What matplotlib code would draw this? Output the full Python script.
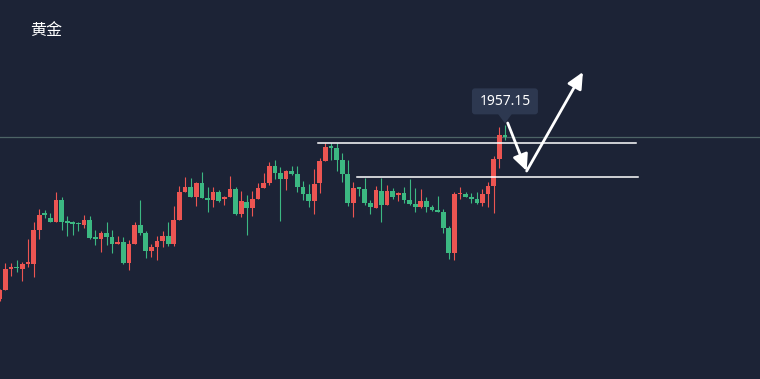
import matplotlib
matplotlib.use('Agg')
import matplotlib.pyplot as plt
from matplotlib.patches import FancyBboxPatch, Polygon
from matplotlib.transforms import IdentityTransform
import numpy as np

title = "黄金"
last_label = "1957.15"

opens = [1783, 1792, 1813.5, 1815, 1813, 1818.5, 1818, 1852, 1868, 1864,
         1860, 1882, 1860, 1859, 1858.5, 1857, 1862, 1844, 1843, 1849,
         1845, 1838, 1840, 1819, 1838, 1857, 1849, 1831, 1835, 1841,
         1846, 1838, 1862, 1890, 1895, 1885, 1899, 1884, 1882, 1890,
         1883.5, 1885, 1893, 1868, 1880, 1874, 1883, 1894, 1899, 1916,
         1909, 1903, 1911, 1908, 1895, 1888, 1881, 1899, 1921, 1935,
         1934, 1922, 1908, 1879, 1894, 1893, 1879, 1874, 1891, 1877,
         1891, 1887, 1889, 1882, 1878, 1875, 1881, 1875, 1872, 1870,
         1854, 1829, 1888, 1888, 1885, 1883, 1879, 1888, 1896, 1923,
         1947]
highs = [1793, 1819, 1819, 1822, 1820, 1843, 1860, 1873, 1872, 1869,
         1890, 1885, 1866, 1861, 1860, 1867, 1866, 1852, 1851, 1860,
         1852, 1846, 1845, 1842, 1860, 1882, 1851, 1838, 1846, 1851,
         1860, 1876, 1896, 1905, 1904, 1900, 1910, 1895, 1895, 1892,
         1886, 1906, 1895, 1891, 1887, 1891, 1899, 1909, 1920, 1922,
         1915, 1912, 1916, 1916, 1901, 1898, 1913, 1924, 1939, 1939,
         1939, 1929, 1922, 1900, 1895, 1904, 1882, 1896, 1904, 1897,
         1894, 1890, 1895, 1903, 1894, 1893, 1885, 1877, 1886, 1873,
         1856, 1890, 1895, 1890, 1889, 1890, 1893, 1900, 1926, 1955,
         1957.15]
lows = [1781, 1792, 1806, 1810, 1801, 1815, 1805, 1843, 1864, 1860,
        1860, 1852, 1846, 1847, 1851, 1854, 1843, 1837, 1830, 1837,
        1829, 1838, 1818, 1812, 1838, 1847, 1824, 1825, 1822, 1835,
        1836, 1836, 1862, 1890, 1885, 1876, 1884, 1870, 1875, 1880,
        1877, 1885, 1867, 1865, 1847, 1866, 1883, 1894, 1897, 1903,
        1861, 1892, 1907, 1890, 1882, 1875, 1868, 1889, 1921, 1922,
        1911, 1900, 1876, 1865, 1886, 1877, 1868, 1874, 1860, 1877,
        1883, 1881, 1879, 1877, 1870, 1874, 1870, 1871, 1870, 1849,
        1823, 1822, 1883, 1885, 1879, 1878, 1876, 1875, 1869, 1914,
        1942]
closes = [1792, 1813, 1814, 1814, 1818, 1819, 1852, 1867, 1867.5, 1860,
          1882, 1860, 1859.5, 1858.5, 1858, 1862, 1844, 1843.5, 1849, 1845,
          1838, 1840, 1819, 1838, 1857, 1849, 1831, 1835, 1841, 1846,
          1838, 1862, 1890, 1895, 1885, 1899, 1884, 1882, 1890, 1881,
          1884, 1893, 1868, 1881, 1874, 1883, 1894, 1899, 1916, 1909,
          1903, 1911, 1908, 1895, 1888, 1881, 1898, 1921, 1935, 1934.5,
          1922, 1908, 1879, 1894, 1893.5, 1879, 1875, 1892, 1877, 1891,
          1885, 1889, 1882, 1878, 1875, 1881, 1875, 1872, 1870, 1854,
          1829, 1888, 1889, 1885, 1883, 1879, 1888, 1896, 1923, 1947,
          1945]

# drawn level lines (start index, end index, price)
level_lines = [(56.7, 113.35, 1939), (63.6, 113.7, 1905)]
# drawn arrows (x0, y0, x1, y1) in candle index / price
arrows = [(90.49, 1959, 93.87, 1911), (93.87, 1911, 103.9, 2010)]

bg = '#1c2336'
up_c = '#ec5552'
dn_c = '#3cb882'

o = np.array(opens); h = np.array(highs); l = np.array(lows); c = np.array(closes)
n = len(o)
x = np.arange(n)
cols = [up_c if cc > oo else dn_c for oo, cc in zip(o, c)]

fig = plt.figure(figsize=(7.6, 3.79), dpi=100)
fig.patch.set_facecolor(bg)
ax = fig.add_axes([0, 0, 1, 1])
ax.set_facecolor(bg)
ax.set_xlim(0.02, 135.45)
ax.set_ylim(1703, 2082)
ax.axis('off')

ax.vlines(x, l, h, colors=cols, linewidth=0.8, zorder=2)
bottom = np.minimum(o, c)
height = np.maximum(np.abs(c - o), 1.1)
ax.bar(x, height, width=0.84, bottom=bottom, color=cols, linewidth=0, zorder=3)

# last price line
ax.axhline(c[-1], color='#4d6466', linewidth=0.9, zorder=1)

for x0, x1, yv in level_lines:
    ax.plot([x0, x1], [yv, yv], color='white', linewidth=1.1, zorder=4)

for x0, y0, x1, y1 in arrows:
    ax.annotate('', xy=(x1, y1), xytext=(x0, y0),
                arrowprops=dict(arrowstyle='-|>,head_length=0.7,head_width=0.33',
                                color='white', lw=2.0, shrinkA=0, shrinkB=0,
                                mutation_scale=14), zorder=5)

# tooltip at last high
fig.canvas.draw()
tx, ty = ax.transData.transform((n - 1, h[-1]))
bw, bh = 66, 26
box_cy = ty + 23.5
box = FancyBboxPatch((tx - bw / 2, box_cy - bh / 2), bw, bh,
                     boxstyle='round,pad=0,rounding_size=3',
                     facecolor='#2d3850', edgecolor='none',
                     transform=IdentityTransform(), zorder=6)
fig.patches.append(box)
tri = Polygon([(tx - 7, box_cy - bh / 2 + 0.5), (tx + 7, box_cy - bh / 2 + 0.5), (tx, ty + 1.5)],
              closed=True, facecolor='#2d3850', edgecolor='none',
              transform=IdentityTransform(), zorder=6)
fig.patches.append(tri)
fig.text((tx) / 760, box_cy / 379, last_label, color='white', fontsize=10,
         ha='center', va='center', family=['Noto Sans', 'DejaVu Sans'], zorder=7)

fig.text(30 / 760, 1 - 30 / 379, title, color='white', fontsize=11.5,
         ha='left', va='center', family=['Noto Sans CJK SC', 'DejaVu Sans'])

fig.savefig('out.png', dpi=100, facecolor=bg)
